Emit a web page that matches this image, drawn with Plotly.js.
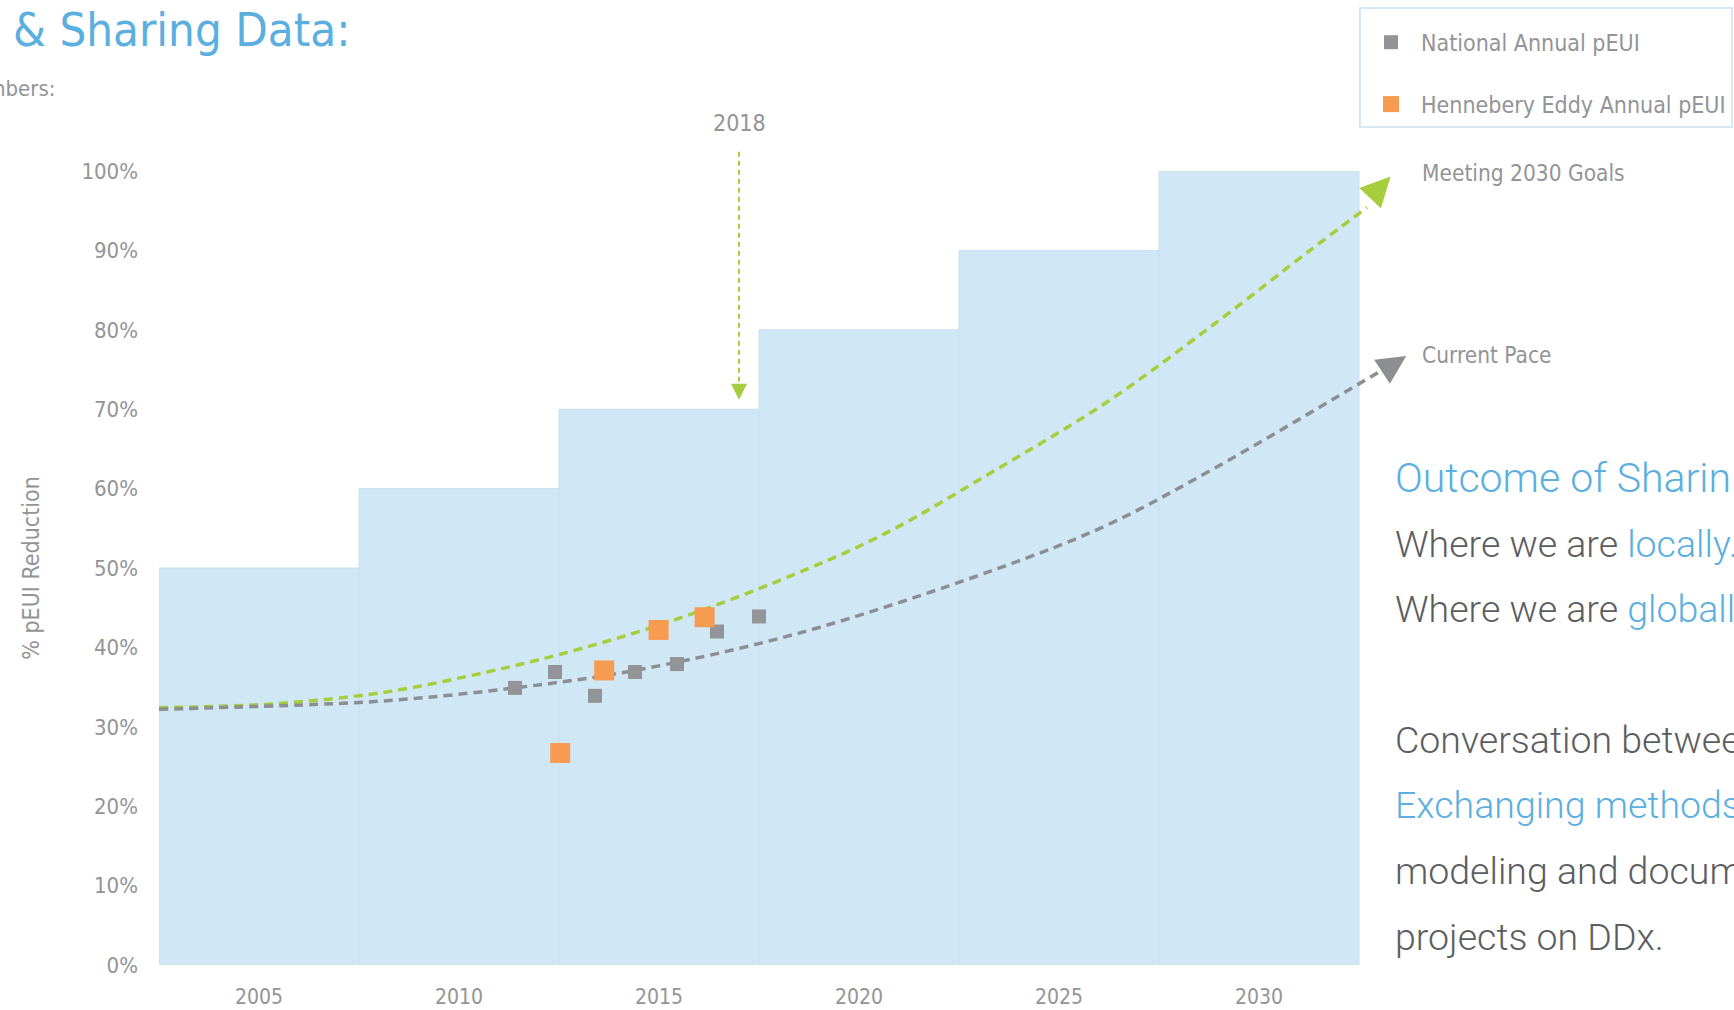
<!DOCTYPE html>
<html>
<head>
<meta charset="utf-8">
<script src="https://cdn.plot.ly/plotly-3.0.1.min.js"></script>
<style>
  html, body { margin: 0; padding: 0; background: #ffffff; }
  #chart { width: 1734px; height: 1010px; }
</style>
</head>
<body>
<div id="chart"></div>
<script>
// ---- Data ----
const goalBarYears = [2005, 2010, 2015, 2020, 2025, 2030];
const goalBarPct = [50, 60, 70, 80, 90, 100];

const nationalYears = [2011.4, 2012.4, 2013.4, 2014.4, 2015.45, 2016.45, 2017.5];
const nationalPct = [34.9, 36.9, 33.9, 36.9, 37.9, 42.0, 43.9];

const heYears = [2012.53, 2013.63, 2014.99, 2016.14];
const hePct = [26.7, 37.1, 42.2, 43.8];

const meetingYears = [2002.5, 2005.4, 2008.2, 2010.7, 2012.5, 2015.0, 2017.9, 2020.6, 2023.4, 2026.2, 2028.9, 2031.3, 2032.7];
const meetingPct = [32.4, 32.9, 34.4, 36.9, 39.1, 42.8, 48.2, 54.2, 62.3, 70.9, 80.8, 90.1, 95.4];
const meetingTip = [2033.29, 99.3];

const paceYears = [2002.5, 2006.8, 2008.5, 2011.4, 2014.4, 2018.5, 2023.4, 2026.2, 2028.9, 2031.9, 2033.1];
const pacePct = [32.2, 32.9, 33.4, 34.9, 37.1, 41.8, 49.8, 55.4, 62.6, 71.4, 75.0];
const paceTip = [2033.68, 76.7];

const highlightYear = 2017;
const highlightLabel = '2018';
const highlightTipPct = 71.2;

const xTickVals = [2005, 2010, 2015, 2020, 2025, 2030];
const xTickText = ['2005', '2010', '2015', '2020', '2025', '2030'];
const yTickVals = [0, 10, 20, 30, 40, 50, 60, 70, 80, 90, 100];
const yTickText = ['0%', '10%', '20%', '30%', '40%', '50%', '60%', '70%', '80%', '90%', '100%'];

// ---- Styles ----
const NARROW = '"Liberation Sans Narrow", "DejaVu Sans Condensed", "Roboto Condensed", Roboto, sans-serif';
const LIGHT = 'Roboto, "Open Sans", sans-serif';
const BLUE = '#5aafe0';
const GRAYTXT = '#939496';
const DARKTXT = '#5c5d60';
const GREEN = '#a6cd3c';
const GRAYLINE = '#8d8e91';

const traces = [
  {
    type: 'bar', x: goalBarYears, y: goalBarPct, width: 5,
    marker: { color: '#d0e7f6', line: { color: '#c8e0f1', width: 1 } },
    showlegend: false, hoverinfo: 'skip'
  },
  {
    type: 'scatter', mode: 'lines', x: meetingYears, y: meetingPct,
    line: { color: GREEN, width: 3.5, dash: '9px,6px', shape: 'spline', smoothing: 1 },
    showlegend: false, hoverinfo: 'skip'
  },
  {
    type: 'scatter', mode: 'lines', x: paceYears, y: pacePct,
    line: { color: GRAYLINE, width: 3.5, dash: '9px,6px', shape: 'spline', smoothing: 1 },
    showlegend: false, hoverinfo: 'skip'
  },
  {
    type: 'scatter', mode: 'markers', name: 'National Annual pEUI',
    x: nationalYears, y: nationalPct, legendgroup: 'a',
    marker: { symbol: 'square', size: 14, color: '#929497' }
  },
  {
    type: 'scatter', mode: 'markers', name: 'Hennebery Eddy Annual pEUI',
    x: heYears, y: hePct, legendgroup: 'b',
    marker: { symbol: 'square', size: 20, color: '#f79b50' }
  }
];

function ann(text, x, y, size, color) {
  return {
    text: text, x: x, y: y, xref: 'paper', yref: 'paper',
    xanchor: 'left', yanchor: 'middle', showarrow: false,
    font: { family: LIGHT, size: size, color: color, weight: 300 }
  };
}

const annotations = [
  // arrowheads on the trend curves
  { x: meetingTip[0], y: meetingTip[1], xref: 'x', yref: 'y', ax: -19, ay: 20,
    showarrow: true, arrowhead: 2, arrowsize: 1.7, arrowwidth: 3.5, arrowcolor: GREEN, text: '' },
  { x: paceTip[0], y: paceTip[1], xref: 'x', yref: 'y', ax: -23, ay: 15,
    showarrow: true, arrowhead: 2, arrowsize: 1.65, arrowwidth: 3.5, arrowcolor: GRAYLINE, text: '' },
  // 2018 marker
  { x: highlightYear, y: highlightTipPct, xref: 'x', yref: 'y', ax: 0, ay: -14,
    showarrow: true, arrowhead: 2, arrowsize: 1.6, arrowwidth: 2, arrowcolor: GREEN, text: '' },
  { x: highlightYear, y: 1.0608, xref: 'x', yref: 'paper', text: highlightLabel, showarrow: false,
    xanchor: 'center', yanchor: 'middle', font: { family: NARROW, size: 23, color: GRAYTXT } },
  // curve labels
  { text: 'Meeting 2030 Goals', x: 1.0008, y: 0.997, xref: 'paper', yref: 'paper', xanchor: 'left', yanchor: 'middle',
    showarrow: false, font: { family: NARROW, size: 22.5, color: GRAYTXT } },
  { text: 'Current Pace', x: 1.0008, y: 0.768, xref: 'paper', yref: 'paper', xanchor: 'left', yanchor: 'middle',
    showarrow: false, font: { family: NARROW, size: 22.5, color: GRAYTXT } },
  // cut-off subtitle on the left
  { text: 'nbers:', x: -0.081, y: 1.1039, xref: 'paper', yref: 'paper', xanchor: 'right', yanchor: 'middle',
    showarrow: false, font: { family: NARROW, size: 22, color: GRAYTXT } },
  // right-hand text block
  ann('Outcome of Sharin', 0.979, 0.6136, 41, BLUE),
  ann('Where we are <span style="color:' + BLUE + '">locally.</span>', 0.979, 0.5300, 37.5, DARKTXT),
  ann('Where we are <span style="color:' + BLUE + '">globall</span>', 0.979, 0.4479, 37.5, DARKTXT),
  ann('Conversation betwee', 0.979, 0.2835, 37.5, DARKTXT),
  ann('Exchanging methods', 0.979, 0.2013, 37.5, BLUE),
  ann('modeling and docum', 0.979, 0.1178, 37.5, DARKTXT),
  ann('projects on DDx.', 0.979, 0.0355, 37.5, DARKTXT)
];

const shapes = [
  { type: 'line', xref: 'x', yref: 'paper', x0: highlightYear, x1: highlightYear, y0: 1.0243, y1: 0.735,
    line: { color: GREEN, width: 2, dash: '5px,4px' } }
];

const layout = {
  width: 1734, height: 1010,
  margin: { l: 159, r: 315, t: 171, b: 45, autoexpand: false },
  paper_bgcolor: '#ffffff', plot_bgcolor: 'rgba(0,0,0,0)',
  title: { text: '& Sharing Data:', x: 0.0075, xref: 'container', xanchor: 'left',
    y: 0.971, yref: 'container', yanchor: 'middle',
    font: { family: NARROW, size: 47, color: BLUE } },
  xaxis: {
    range: [2002.5, 2034], tickvals: xTickVals, ticktext: xTickText,
    showgrid: false, zeroline: false, showline: false,
    ticks: '', ticklabelstandoff: 17,
    tickfont: { family: NARROW, size: 21, color: GRAYTXT }
  },
  yaxis: {
    range: [0, 100], tickvals: yTickVals, ticktext: yTickText,
    showgrid: false, zeroline: false, showline: false,
    ticks: '', ticklabelstandoff: 20,
    tickfont: { family: NARROW, size: 22, color: GRAYTXT },
    title: { text: '% pEUI Reduction', standoff: 35, font: { family: NARROW, size: 23, color: GRAYTXT } }
  },
  legend: {
    x: 0.9524, xanchor: 'left', y: 1.2065, yanchor: 'top',
    bgcolor: '#ffffff', bordercolor: '#d6e8f5', borderwidth: 2,
    font: { family: NARROW, size: 23, color: GRAYTXT },
    title: { text: ' ', font: { size: 9 } },
    tracegroupgap: 29, itemsizing: 'trace', itemwidth: 50
  },
  annotations: annotations,
  shapes: shapes,
  bargap: 0,
  showlegend: true
};

Plotly.newPlot('chart', traces, layout, { displayModeBar: false, staticPlot: true });
</script>
</body>
</html>
